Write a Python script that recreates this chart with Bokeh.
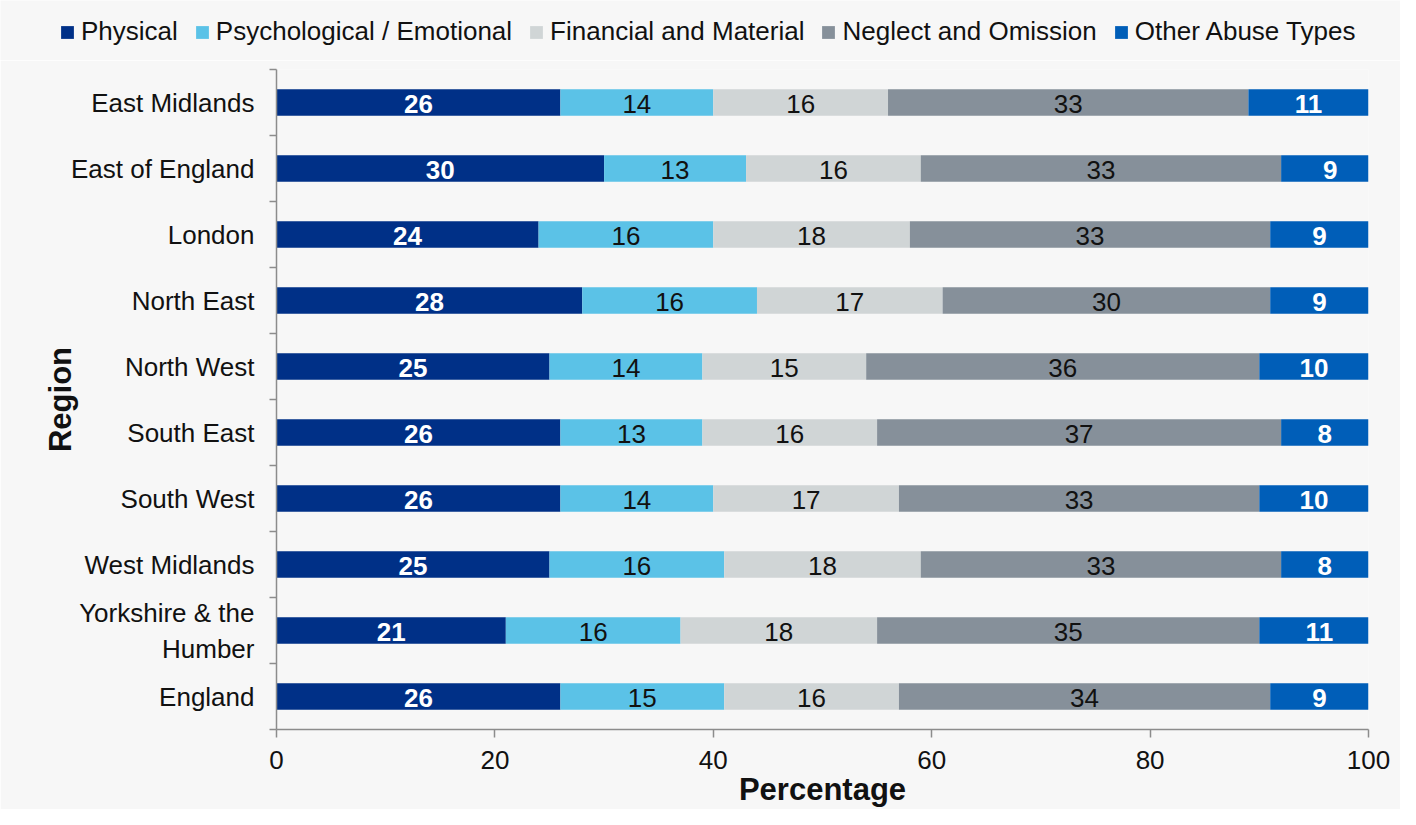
from bokeh.plotting import figure
from bokeh.models import ColumnDataSource, Range1d, FixedTicker, Legend, LegendItem
from bokeh.core.properties import value
from bokeh.embed import file_html
from bokeh.resources import INLINE

regions = ["East Midlands", "East of England", "London", "North East", "North West",
           "South East", "South West", "West Midlands", "Yorkshire & the\nHumber", "England"]
categories = ["Physical", "Psychological / Emotional", "Financial and Material",
              "Neglect and Omission", "Other Abuse Types"]
physical = [26, 30, 24, 28, 25, 26, 26, 25, 21, 26]
psychological = [14, 13, 16, 16, 14, 13, 14, 16, 16, 15]
financial = [16, 16, 18, 17, 15, 16, 17, 18, 18, 16]
neglect = [33, 33, 33, 30, 36, 37, 33, 33, 35, 34]
other = [11, 9, 9, 9, 10, 8, 10, 8, 11, 9]
x_ticks = [0, 20, 40, 60, 80, 100]

colors = ["#003087", "#5BC2E7", "#D0D5D6", "#86909A", "#005EB8"]
label_colors = ["#FFFFFF", "#111111", "#111111", "#111111", "#FFFFFF"]
label_styles = ["bold", "normal", "normal", "normal", "bold"]

FONT = "Liberation Sans"
BG = "#F7F7F7"
series = [physical, psychological, financial, neglect, other]
ypos = list(range(len(regions)))

# stacked extents computed from the data
lefts, rights = [], []
left = [0] * len(regions)
for vals in series:
    right = [l + v for l, v in zip(left, vals)]
    lefts.append(left)
    rights.append(right)
    left = right

# ---- legend strip (separate root so the legend is neither clipped nor frame-aligned) ----
LEG_H = 60
pl = figure(width=1400, height=LEG_H, output_backend="svg", toolbar_location=None,
            x_range=Range1d(0, 100), y_range=Range1d(len(regions) - 0.5, -0.5),
            x_axis_type=None, y_axis_type=None,
            min_border=0, min_border_left=0, min_border_right=0, min_border_top=0, min_border_bottom=0)
pl.background_fill_color = BG
pl.border_fill_color = BG
pl.outline_line_color = None
pl.xgrid.visible = False
pl.ygrid.visible = False
leg_renderers = []
for k in range(len(categories)):
    src = ColumnDataSource(dict(y=ypos, left=lefts[k], right=rights[k]))
    leg_renderers.append(pl.hbar(y="y", left="left", right="right", height=0.4, source=src,
                                 fill_color=colors[k], line_color=None, visible=False))
legend = Legend(items=[LegendItem(label=c, renderers=[r]) for c, r in zip(categories, leg_renderers)],
                orientation="horizontal", location=(59, LEG_H - 47),
                glyph_width=16, glyph_height=16, label_standoff=6, spacing=16,
                padding=0, margin=0, label_text_font=FONT, label_text_font_size="26px",
                label_text_color="#111111", background_fill_alpha=0, border_line_color=None,
                inactive_fill_alpha=0)
pl.add_layout(legend, "center")

# ---- main chart ----
p = figure(width=1400, height=809 - LEG_H, output_backend="svg", toolbar_location=None,
           x_range=Range1d(0, 100), y_range=Range1d(len(regions) - 0.5, -0.5),
           min_border_left=276, min_border_right=32, min_border_top=69 - LEG_H, min_border_bottom=69)
p.background_fill_color = BG
p.border_fill_color = BG
p.outline_line_color = None
p.xgrid.visible = False
p.ygrid.visible = False

lbl = dict(x=[], y=[], text=[], color=[], style=[])
for k, vals in enumerate(series):
    src = ColumnDataSource(dict(y=ypos, left=lefts[k], right=rights[k]))
    p.hbar(y="y", left="left", right="right", height=0.4, source=src,
           fill_color=colors[k], line_color=None)
    for i, v in enumerate(vals):
        lbl["x"].append((lefts[k][i] + rights[k][i]) / 2)
        lbl["y"].append(ypos[i])
        lbl["text"].append(str(v))
        lbl["color"].append(label_colors[k])
        lbl["style"].append(label_styles[k])

p.text(x="x", y="y", text="text", source=ColumnDataSource(lbl),
       text_color="color", text_font_style="style", text_font=value(FONT),
       text_font_size="26px", text_align="center", text_baseline="middle", y_offset=1)

axis_grey = "#8C8C8C"
# x axis
xa = p.xaxis[0]
xa.ticker = FixedTicker(ticks=x_ticks)
xa.axis_line_color = axis_grey
xa.axis_line_width = 1.5
xa.major_tick_line_color = axis_grey
xa.major_tick_line_width = 1.5
xa.major_tick_in = 0
xa.major_tick_out = 8
xa.minor_tick_line_color = None
xa.major_label_text_font = FONT
xa.major_label_text_font_size = "26px"
xa.major_label_text_color = "#111111"
xa.major_label_standoff = 13
xa.axis_label = "Percentage"
xa.axis_label_text_font = FONT
xa.axis_label_text_font_size = "31px"
xa.axis_label_text_font_style = "bold"
xa.axis_label_text_color = "#111111"
xa.axis_label_standoff = 0

# y axis
ya = p.yaxis[0]
ya.ticker = FixedTicker(ticks=ypos, minor_ticks=[i - 0.5 for i in range(len(regions) + 1)])
ya.major_label_overrides = {i: regions[i] for i in ypos}
ya.axis_line_color = axis_grey
ya.axis_line_width = 1.5
ya.major_tick_line_color = None
ya.major_tick_out = 0
ya.major_tick_in = 0
ya.minor_tick_line_color = axis_grey
ya.minor_tick_line_width = 1.5
ya.minor_tick_in = 0
ya.minor_tick_out = 7
ya.major_label_text_font = FONT
ya.major_label_text_font_size = "26px"
ya.major_label_text_color = "#111111"
ya.major_label_standoff = 15
ya.axis_label = "Region"
ya.axis_label_text_font = FONT
ya.axis_label_text_font_size = "31px"
ya.axis_label_text_font_style = "bold"
ya.axis_label_text_color = "#111111"
ya.axis_label_standoff = -10

open("out.html", "w").write(file_html([pl, p], INLINE))
